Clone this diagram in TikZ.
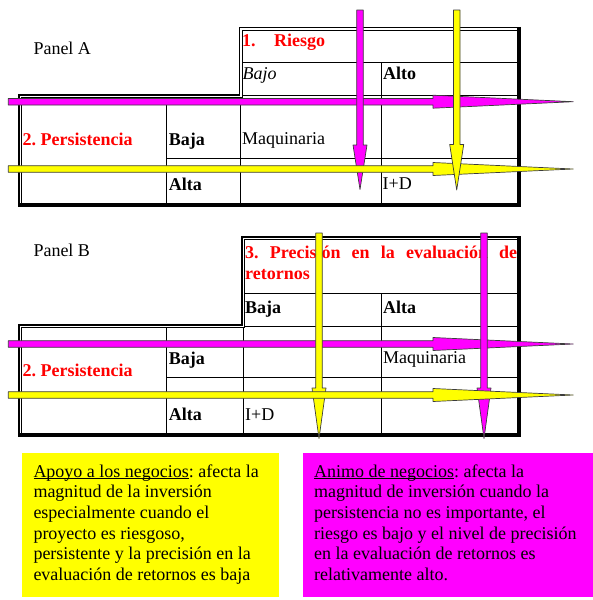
\documentclass[tikz,border=0pt]{standalone}
\usepackage{fontspec}
\setmainfont{Liberation Serif}
\frenchspacing
\definecolor{myred}{RGB}{255,0,0}
\definecolor{myyellow}{RGB}{255,255,0}
\definecolor{mymagenta}{RGB}{255,0,255}
\definecolor{arrowedge}{RGB}{60,60,60}
\newcommand\myul[1]{\leavevmode\setbox0\hbox{#1}\rlap{\rule[-1.8pt]{\wd0}{0.8pt}}\box0}
% horizontal block arrow: color, y, x start, x head, x tip
\newcommand\harr[5]{\draw[blockarrow, fill=#1] (#3,#2-3.3) -- (#4,#2-3.3) -- (#4,#2-6.5) -- (#5,#2) -- (#4,#2+6.5) -- (#4,#2+3.3) -- (#3,#2+3.3) -- cycle;}
% vertical block arrow: color, x, y top, y head, y tip
\newcommand\varr[5]{\draw[blockarrow, fill=#1] (#2-3.3,#3) -- (#2-3.3,#4) -- (#2-7,#4) -- (#2,#5) -- (#2+7,#4) -- (#2+3.3,#4) -- (#2+3.3,#3) -- cycle;}
\begin{document}
\begin{tikzpicture}[x=1pt,y=-1pt,
  txt/.style={anchor=base west, inner sep=0pt, font=\fontsize{18}{20.7}\selectfont},
  boldtxt/.style={txt, font=\fontsize{18}{20.7}\selectfont\bfseries},
  italtxt/.style={txt, font=\fontsize{18}{20.7}\selectfont\itshape},
  redtxt/.style={boldtxt, text=myred},
  gridline/.style={line width=0.8pt},
  dblout/.style={line width=1.4pt},
  dblin/.style={line width=0.6pt},
  heavy/.style={line width=4pt},
  blockarrow/.style={draw=arrowedge, line width=0.7pt, line join=round}
]
\useasboundingbox (0,0) rectangle (593,600);

% ================= Panel A =================
\node[txt] (pa) at (33.3,54) {Panel A};
% borders
\draw[dblout] (19,204.5) -- (19,95) -- (239.5,95) -- (239.5,27.5) -- (518.5,27.5);
\draw[dblin] (21.7,203) -- (21.7,97.7) -- (242.2,97.7) -- (242.2,30.2) -- (517,30.2);
\draw[heavy] (518.5,26.8) -- (518.5,204.5) -- (17.8,204.5);
% grid
\draw[gridline] (242,62) -- (517,62);
\draw[gridline] (242,95) -- (517,95);
\draw[gridline] (381.7,62) -- (381.7,203);
\draw[gridline] (166.7,97) -- (166.7,203);
\draw[gridline] (240.7,97) -- (240.7,203);
\draw[gridline] (166.7,158.3) -- (517,158.3);
% texts
\node[redtxt] (riesgo) at (242,46.7) {1.\hspace{18.5pt}Riesgo};
\node[italtxt] (bajoA) at (242.5,79) {Bajo};
\node[boldtxt] (altoA) at (383,79) {Alto};
\node[redtxt] (persA) at (22.5,145) {2. Persistencia};
\node[boldtxt] (bajaA) at (168.7,145) {Baja};
\node[txt] (maqA) at (242,144.5) {Maquinaria};
\node[boldtxt] (altaA) at (168.7,190) {Alta};
\node[txt] (idA) at (382.5,189.3) {I+D};
% arrows
\harr{mymagenta}{101.7}{8.3}{433}{573.3}
\varr{mymagenta}{360}{10}{145}{189.5}
\harr{myyellow}{169}{8.3}{433}{573.3}
\varr{myyellow}{456.7}{10}{144.5}{190}

% ================= Panel B =================
\node[txt] (pb) at (33.3,256) {Panel B};
\draw[dblout] (19,435) -- (19,325) -- (242,325) -- (242,237) -- (519,237);
\draw[dblin] (21.7,433.5) -- (21.7,327.7) -- (244.7,327.7) -- (244.7,239.7) -- (517.5,239.7);
\draw[heavy] (519,236.3) -- (519,435) -- (17.8,435);
% grid
\draw[gridline] (244,293.3) -- (517,293.3);
\draw[gridline] (244,326.5) -- (517,326.5);
\draw[gridline] (381.7,293.3) -- (381.7,433);
\draw[gridline] (166.7,327) -- (166.7,433);
\draw[gridline] (243.3,327) -- (243.3,433);
\draw[gridline] (166.7,377.3) -- (517,377.3);
% texts
\node[redtxt, font=\fontsize{18}{21}\selectfont\bfseries] (precision) at (245,258)
  {\parbox[t]{272pt}{\makebox[272pt][s]{3. Precisión en la evaluación de}\\retornos}};
\node[boldtxt] (bajaB1) at (245,313.7) {Baja};
\node[boldtxt] (altaB1) at (383,313.7) {Alta};
\node[redtxt] (persB) at (22.5,376) {2. Persistencia};
\node[boldtxt] (bajaB) at (168.7,364.7) {Baja};
\node[txt] (maqB) at (383,363) {Maquinaria};
\node[boldtxt] (altaB) at (168.7,420) {Alta};
\node[txt] (idB) at (245,420) {I+D};
% arrows
\harr{mymagenta}{344}{8.3}{433}{573.3}
\varr{myyellow}{319}{233}{388}{438.5}
\varr{mymagenta}{484}{233}{388}{438.5}
\harr{myyellow}{395}{8.3}{433}{573.3}

% ================= Bottom boxes =================
\fill[myyellow] (22,453.3) rectangle (279.3,596.7);
\fill[mymagenta] (302.7,453.3) rectangle (593,596.7);
\node[txt] (apoyo) at (33.3,477) {\parbox[t]{320pt}{%
\myul{Apoyo a los negocios}: afecta la\\
magnitud de la inversión\\
especialmente cuando el\\
proyecto es riesgoso,\\
persistente y la precisión en la\\
evaluación de retornos es baja}};
\node[txt] (animo) at (314,477) {\parbox[t]{320pt}{%
\myul{Animo de negocios}: afecta la\\
magnitud de inversión cuando la\\
persistencia no es importante, el\\
riesgo es bajo y el nivel de precisión\\
en la evaluación de retornos es\\
relativamente alto.}};
\end{tikzpicture}
\end{document}
